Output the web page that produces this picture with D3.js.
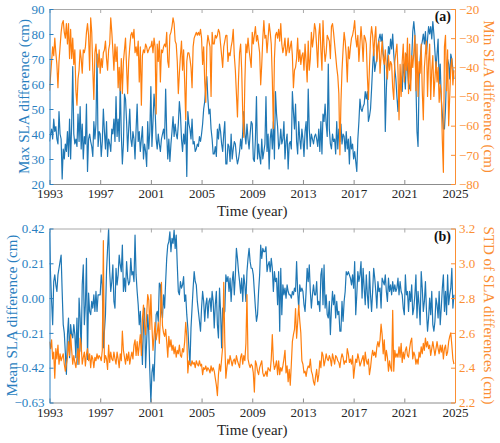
<!DOCTYPE html>
<html><head><meta charset="utf-8">
<script src="https://cdn.jsdelivr.net/npm/d3@7/dist/d3.min.js"></script>
<style>
body{margin:0;background:#fff}
svg{display:block}
text{font-family:"Liberation Serif","Times New Roman",serif}
</style>
</head><body>
<svg id="chart" width="500" height="443"></svg>
<script>
// ---------- data (monthly, Jan 1993 – Dec 2024) ----------
const yearTicks = [1993,1997,2001,2005,2009,2013,2017,2021,2025];

const maxSLA = [
 37,40,42,38,46,41,43,38,36,49,40,38,
 22,34,30,36,33,41,31,46,30,44,67,40,
 36,38,35,48,37,51,34,44,30,39,36,52,
 25,38,40,37,35,31,45,38,44,72,35,41,
 40,31,37,50,41,34,45,31,38,36,33,42,
 40,46,37,55,39,46,37,61,40,28,36,56,
 54,45,33,42,50,38,35,41,38,30,42,52,
 37,41,33,38,43,30,36,33,27,45,34,41,
 59,35,45,56,50,38,34,40,36,33,38,40,
 42,38,58,40,30,38,29,36,41,47,39,44,
 40,38,44,53,48,38,33,40,36,45,23,49,
 44,42,38,46,36,37,33,34,36,35,39,37,
 40,44,50,53,59,63,54,48,50,42,38,32,
 32,35,31,42,38,44,41,36,33,40,45,28,
 28,36,35,29,40,30,34,37,36,31,28,30,
 33,38,34,41,49,40,36,44,38,34,40,45,
 44,30,29,38,55,30,36,31,28,38,30,33,
 36,55,33,40,26,38,42,34,45,30,57,48,
 43,34,36,42,36,38,45,30,37,40,26,36,
 37,34,57,49,42,52,37,32,45,38,34,42,
 38,31,41,45,34,58,42,35,40,38,36,39,
 40,38,35,42,33,45,32,48,45,52,44,39,
 68,42,36,34,40,37,38,32,45,34,42,37,
 44,36,40,39,33,41,34,38,28,39,34,36,
 30,33,29,25,38,45,54,50,49,51,52,57,
 54,57,45,47,50,58,67,74,65,68,70,75,
 78,80,77,80,72,70,41,58,68,75,72,78,
 74,80,72,66,62,55,49,58,60,58,57,68,
 64,58,72,66,60,58,62,70,81,85,80,60,
 41,35,62,70,75,77,80,76,81,72,78,83,
 80,83,78,85,80,73,66,72,78,60,68,54,
 48,42,42,50,64,70,68,62,72,70,66,62
];

const minSLA = [
 -48,-43,-38,-33,-36,-30,-35,-39,-47,-38,-33,-28,
 -25,-24,-28,-30,-25,-32,-25,-37,-27,-37,-30,-39,
 -34,-48,-53,-44,-41,-34,-37,-42,-34,-35,-33,-28,
 -25,-29,-41,-23,-28,-41,-51,-35,-32,-38,-40,-34,
 -42,-37,-40,-35,-34,-31,-37,-41,-34,-32,-23,-28,
 -34,-41,-32,-38,-33,-47,-40,-48,-37,-49,-38,-34,
 -30,-40,-49,-38,-33,-29,-28,-30,-27,-35,-33,-36,
 -31,-45,-33,-53,-36,-34,-35,-32,-33,-35,-34,-33,
 -33,-31,-35,-30,-33,-56,-32,-38,-31,-45,-34,-35,
 -33,-32,-33,-28,-38,-40,-29,-28,-26,-23,-25,-31,
 -32,-38,-49,-42,-36,-31,-41,-34,-45,-58,-38,-35,
 -35,-37,-40,-47,-33,-30,-29,-28,-29,-28,-29,-27,
 -30,-39,-33,-45,-52,-33,-29,-31,-33,-50,-28,-32,
 -32,-29,-30,-29,-27,-28,-32,-36,-40,-33,-31,-29,
 -29,-38,-35,-36,-33,-31,-27,-36,-41,-49,-57,-44,
 -35,-32,-41,-56,-64,-45,-32,-35,-30,-34,-37,-40,
 -28,-32,-29,-26,-31,-29,-32,-35,-46,-39,-30,-24,
 -30,-29,-35,-30,-25,-28,-32,-44,-61,-37,-29,-28,
 -30,-27,-31,-25,-32,-35,-33,-30,-36,-34,-30,-35,
 -33,-31,-36,-47,-41,-40,-37,-30,-38,-34,-39,-36,
 -35,-41,-32,-38,-45,-31,-41,-37,-28,-33,-30,-25,
 -27,-33,-40,-29,-25,-34,-41,-24,-33,-38,-35,-29,
 -30,-31,-37,-26,-25,-28,-32,-36,-40,-43,-49,-70,
 -52,-41,-34,-28,-31,-36,-45,-33,-37,-33,-30,-29,
 -27,-24,-30,-33,-29,-38,-32,-26,-31,-38,-29,-30,
 -32,-43,-51,-40,-30,-26,-29,-36,-30,-26,-38,-33,
 -31,-42,-36,-31,-37,-39,-34,-40,-44,-36,-41,-38,
 -39,-47,-51,-38,-35,-32,-41,-58,-39,-50,-38,-32,
 -45,-35,-41,-30,-49,-32,-48,-36,-40,-35,-29,-48,
 -32,-50,-38,-42,-32,-48,-58,-40,-35,-31,-50,-38,
 -32,-51,-41,-36,-50,-44,-38,-45,-40,-52,-46,-49,
 -65,-76,-33,-29,-48,-34,-60,-50,-40,-37,-46,-41
];

const meanSLA = [
 0.40,0.14,-0.02,-0.16,0.10,0.14,0.08,0.04,0.14,0.18,0.22,0.26,
 0.04,-0.16,-0.21,-0.33,-0.46,-0.22,-0.12,-0.36,-0.16,-0.22,-0.24,-0.16,
 -0.22,-0.36,-0.12,-0.40,0.00,-0.12,-0.32,0.08,0.20,-0.16,-0.04,0.24,
 -0.37,0.03,-0.08,-0.10,-0.02,-0.06,0.02,-0.08,0.04,-0.08,0.02,0.02,
 0.02,0.14,0.08,-0.30,-0.20,-0.10,0.16,0.30,0.42,0.16,0.04,0.10,
 0.20,-0.02,-0.06,0.18,0.08,0.14,0.26,0.20,0.16,0.32,0.04,0.12,
 0.04,0.22,0.12,0.08,0.10,0.24,0.14,0.16,0.10,0.38,0.14,0.04,
 -0.04,-0.16,-0.08,-0.24,-0.40,-0.16,-0.06,-0.42,-0.26,-0.10,-0.20,-0.44,
 -0.63,-0.45,-0.40,-0.50,-0.30,-0.10,-0.08,-0.14,0.09,0.08,-0.08,-0.12,
 0.02,-0.06,0.10,0.24,0.32,0.34,0.40,0.28,0.36,0.33,0.41,0.30,
 0.38,0.20,0.04,0.02,0.10,0.06,0.08,0.13,-0.02,0.02,-0.10,-0.18,
 -0.30,-0.40,-0.18,-0.06,0.06,0.16,0.10,0.08,-0.02,-0.08,-0.14,-0.20,
 -0.06,0.04,-0.02,-0.14,-0.04,0.00,-0.12,-0.02,0.00,-0.08,0.04,-0.02,
 -0.18,-0.04,0.04,-0.16,-0.24,0.06,-0.08,-0.30,-0.06,-0.10,-0.08,0.14,
 0.10,0.13,0.04,0.12,-0.02,0.10,0.16,0.02,0.14,0.30,0.24,0.16,
 0.10,0.03,0.12,-0.02,0.14,0.08,-0.02,0.16,0.24,0.30,0.22,0.18,
 0.18,0.14,0.04,-0.06,-0.14,-0.10,0.04,0.14,0.32,0.24,0.30,0.28,
 0.28,0.31,0.16,0.20,0.22,0.16,0.24,0.18,0.04,0.16,0.10,0.12,
 -0.04,0.16,-0.20,0.18,-0.10,0.08,0.02,0.06,0.00,0.08,0.04,0.02,
 0.02,0.00,0.04,0.02,0.06,0.04,0.22,0.04,-0.06,0.08,0.04,0.06,
 0.04,-0.04,-0.08,0.04,0.18,0.10,0.20,0.04,-0.06,0.02,0.08,0.02,
 0.02,0.10,-0.04,-0.02,-0.08,0.14,0.18,-0.04,0.20,-0.06,0.02,-0.10,
 -0.12,-0.02,-0.22,-0.06,0.04,-0.04,0.02,-0.12,-0.02,-0.10,-0.08,-0.20,
 -0.20,-0.02,-0.14,-0.02,0.04,0.16,0.14,0.16,0.14,0.12,0.08,0.14,
 0.06,0.22,-0.10,0.02,0.16,0.10,0.14,0.22,0.00,0.18,0.06,-0.04,
 0.14,0.02,-0.06,0.16,0.02,-0.08,0.04,0.18,0.12,0.04,-0.06,0.10,
 0.04,0.06,-0.06,0.12,0.10,0.08,0.14,0.04,-0.02,0.12,0.04,0.08,
 0.02,0.10,0.04,0.08,0.04,0.06,0.12,0.02,0.10,0.04,0.02,-0.06,
 -0.10,0.14,0.02,0.04,-0.08,0.04,-0.02,0.08,-0.10,-0.06,0.02,0.14,
 -0.12,0.04,-0.04,-0.16,0.16,0.06,-0.08,-0.02,0.10,-0.08,-0.20,-0.12,
 0.00,-0.10,0.04,-0.16,-0.20,-0.14,0.00,-0.04,-0.12,0.04,-0.16,-0.06,
 0.06,0.14,-0.08,0.04,-0.10,0.14,-0.04,0.02,0.06,0.18,-0.06,0.02
];

const stdSLA = [
 2.55,2.51,2.56,2.45,2.49,2.34,2.51,2.45,2.53,2.42,2.48,2.44,
 2.46,2.48,2.42,2.38,2.42,2.46,2.55,2.47,2.59,2.50,2.42,2.47,
 2.43,2.40,2.46,2.51,2.42,2.57,2.53,2.42,2.46,2.49,2.41,2.48,
 2.51,2.44,2.48,2.40,2.47,2.45,2.40,2.46,2.44,2.48,2.45,2.47,
 2.46,2.44,2.50,3.13,2.43,2.47,2.45,2.39,2.53,2.43,2.49,2.45,
 2.44,2.49,2.45,2.42,2.49,2.45,2.40,2.48,2.44,2.61,2.50,2.46,
 2.42,2.48,2.44,2.49,2.42,2.46,2.49,2.45,2.53,2.56,2.47,2.55,
 2.47,2.53,2.59,2.47,2.68,2.76,2.64,2.59,2.70,2.82,2.79,2.62,
 2.82,2.64,2.50,2.58,2.66,2.56,2.60,2.66,2.54,2.69,2.89,2.64,
 2.60,2.58,2.62,2.55,2.46,2.58,2.52,2.56,2.50,2.53,2.48,2.52,
 2.46,2.50,2.48,2.53,2.47,2.46,2.51,2.49,2.55,2.66,2.58,2.37,
 2.44,2.42,2.41,2.44,2.42,2.43,2.40,2.44,2.42,2.41,2.44,2.41,
 2.42,2.36,2.40,2.39,2.41,2.38,2.40,2.39,2.37,2.41,2.38,2.40,
 2.38,2.34,2.30,2.24,2.36,2.42,2.38,2.45,2.52,2.89,2.55,2.34,
 2.40,2.45,2.42,2.47,2.44,2.41,2.44,2.45,2.42,2.47,2.44,2.42,
 2.40,2.46,2.48,2.42,2.47,2.44,2.54,2.82,2.45,2.42,2.40,2.42,
 2.41,2.37,2.26,2.44,2.42,2.38,2.36,2.40,2.42,2.44,2.37,2.35,
 2.36,2.38,2.35,2.40,2.39,2.38,2.45,2.59,2.44,2.39,2.41,2.44,
 2.36,2.44,2.36,2.40,2.38,2.41,2.45,2.50,2.37,2.41,2.32,2.39,
 2.30,2.42,2.55,2.59,2.62,2.74,2.57,2.66,2.76,2.67,2.60,2.44,
 2.42,2.37,2.38,2.35,2.39,2.41,2.40,2.45,2.38,2.36,2.32,2.30,
 2.35,2.39,2.32,2.36,2.44,2.40,2.49,2.47,2.41,2.44,2.48,2.45,
 2.44,2.47,2.45,2.41,2.48,2.45,2.42,2.47,2.46,2.44,2.43,2.40,
 2.45,2.48,2.46,2.42,2.44,2.43,2.51,2.48,2.43,2.45,2.42,2.47,
 2.34,2.40,2.45,2.43,2.48,2.45,2.41,2.43,2.45,2.47,2.41,2.49,
 2.44,2.42,2.45,2.36,2.40,2.46,2.50,2.47,2.49,2.46,2.52,2.55,
 2.52,2.56,2.65,2.59,2.48,2.56,2.44,2.50,2.46,2.38,2.44,2.40,
 2.38,2.73,2.38,2.50,2.46,2.48,2.46,2.52,2.46,2.54,2.43,2.49,
 2.45,2.50,2.52,2.47,2.46,2.51,2.55,2.57,2.45,2.49,2.47,2.42,
 2.45,2.42,2.49,2.46,2.52,2.48,2.54,2.50,2.57,2.52,2.55,2.51,
 2.53,2.47,2.51,2.55,2.51,2.47,2.51,2.55,2.51,2.48,2.53,2.49,
 2.53,2.45,2.51,2.53,2.47,2.49,2.55,2.58,2.60,2.53,2.45,2.42
];

const maxTicks = [20,30,40,50,60,70,80,90];
const minTicks = [-80,-70,-60,-50,-40,-30,-20];
const meanTicks = [-0.63,-0.42,-0.21,0,0.21,0.42];
const stdTicks = [2.2,2.4,2.6,2.8,3.0,3.2];

// ---------- drawing ----------
const SERIF = '"Liberation Serif", "Times New Roman", serif';
const BLUE = "#1f77b4", ORANGE = "#ff7f0e";
const BLUE_T = "#2a7fbf", ORANGE_T = "#fb8f34";
const svg = d3.select("#chart");
const L = 49.5, R = 455;
const x = d3.scaleLinear().domain([1993, 2025]).range([L, R]);
const tOf = i => 1993 + i / 12;

const panels = [
  {top: 9, bottom: 184, left: maxSLA, right: minSLA,
   lDom: [20, 90], rDom: [-80, -20], lTicks: maxTicks, rTicks: minTicks,
   lFmt: d3.format("d"), rFmt: d3.format("d"),
   lLabel: "Max SLA difference (cm)", rLabel: "Min SLA difference (cm)",
   lLabelX: 28.5, tag: "(a)"},
  {top: 228.5, bottom: 402.5, left: meanSLA, right: stdSLA,
   lDom: [-0.63, 0.42], rDom: [2.2, 3.2], lTicks: meanTicks, rTicks: stdTicks,
   lFmt: d3.format(".2f"), rFmt: d3.format(".1f"),
   lLabel: "Mean SLA difference (cm)", rLabel: "STD of SLA differences (cm)",
   lLabelX: 16.5, tag: "(b)"}
];

panels.forEach((p, k) => {
  const yL = d3.scaleLinear().domain(p.lDom).range([p.bottom, p.top]);
  const yR = d3.scaleLinear().domain(p.rDom).range([p.bottom, p.top]);
  const clipId = "clip" + k;
  svg.append("clipPath").attr("id", clipId).append("rect")
    .attr("x", L).attr("y", p.top).attr("width", R - L).attr("height", p.bottom - p.top);

  const g = svg.append("g").attr("clip-path", `url(#${clipId})`);
  g.append("path").datum(p.left)
    .attr("fill", "none").attr("stroke", BLUE).attr("stroke-width", 1.2)
    .attr("stroke-linejoin", "round")
    .attr("d", d3.line().x((d, i) => x(tOf(i))).y(d => yL(d)));
  g.append("path").datum(p.right)
    .attr("fill", "none").attr("stroke", ORANGE).attr("stroke-width", 1.2)
    .attr("stroke-linejoin", "round")
    .attr("d", d3.line().x((d, i) => x(tOf(i))).y(d => yR(d)));

  // bottom axis
  const gb = svg.append("g").attr("transform", `translate(0,${p.bottom})`)
    .call(d3.axisBottom(x).tickValues(yearTicks).tickFormat(d3.format("d"))
      .tickSize(-4).tickSizeOuter(0).tickPadding(5))
    .attr("font-family", SERIF).attr("font-size", 13);
  gb.select(".domain").attr("stroke", "#8c8c8c");
  gb.selectAll(".tick line").attr("stroke", "#8c8c8c");
  gb.selectAll("text").attr("fill", "#262626");

  // top axis (box)
  const gt = svg.append("g").attr("transform", `translate(0,${p.top})`)
    .call(d3.axisTop(x).tickValues(yearTicks).tickFormat("")
      .tickSize(-4).tickSizeOuter(0));
  gt.select(".domain").attr("stroke", "#a8a8a8");
  gt.selectAll(".tick line").attr("stroke", "#a8a8a8");

  // left axis
  const gl = svg.append("g").attr("transform", `translate(${L},0)`)
    .call(d3.axisLeft(yL).tickValues(p.lTicks).tickFormat(p.lFmt)
      .tickSize(-4).tickSizeOuter(0).tickPadding(5))
    .attr("font-family", SERIF).attr("font-size", 13);
  gl.select(".domain").attr("stroke", BLUE_T);
  gl.selectAll(".tick line").attr("stroke", BLUE_T);
  gl.selectAll("text").attr("fill", BLUE_T);

  // right axis
  const gr = svg.append("g").attr("transform", `translate(${R},0)`)
    .call(d3.axisRight(yR).tickValues(p.rTicks).tickFormat(p.rFmt)
      .tickSize(-4).tickSizeOuter(0).tickPadding(4))
    .attr("font-family", SERIF).attr("font-size", 13);
  gr.select(".domain").attr("stroke", ORANGE_T);
  gr.selectAll(".tick line").attr("stroke", ORANGE_T);
  gr.selectAll("text").attr("fill", ORANGE_T);

  const midY = (p.top + p.bottom) / 2;
  svg.append("text")
    .attr("transform", `translate(${p.lLabelX},${midY}) rotate(-90)`)
    .attr("text-anchor", "middle").attr("font-size", 15).attr("fill", BLUE_T)
    .text(p.lLabel);
  svg.append("text")
    .attr("transform", `translate(483.5,${midY}) rotate(90)`)
    .attr("text-anchor", "middle").attr("font-size", 15).attr("fill", ORANGE_T)
    .text(p.rLabel);
  svg.append("text")
    .attr("x", (L + R) / 2).attr("y", p.bottom + 32)
    .attr("text-anchor", "middle").attr("font-size", 15).attr("fill", "#262626")
    .text("Time (year)");
  svg.append("text")
    .attr("x", R - 4).attr("y", p.top + 12)
    .attr("text-anchor", "end").attr("font-size", 14).attr("font-weight", "bold")
    .attr("fill", "#111").text(p.tag);
});
</script>
</body></html>
